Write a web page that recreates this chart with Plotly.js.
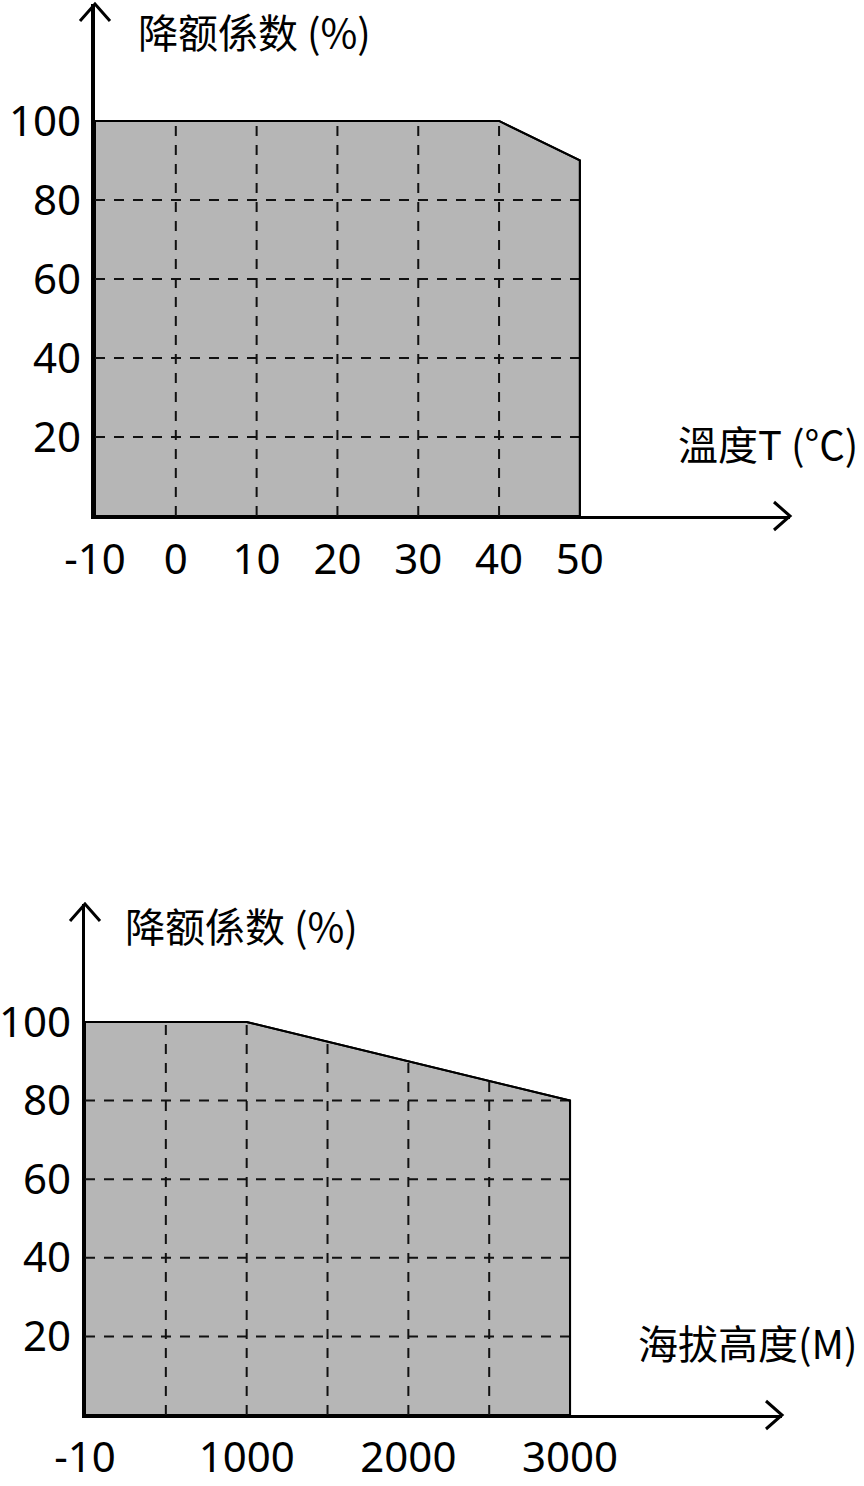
<!DOCTYPE html>
<html>
<head>
<meta charset="utf-8">
<script src="https://cdn.plot.ly/plotly-3.0.1.min.js"></script>
<style>body{margin:0;background:#fff}</style>
</head>
<body>
<div id="chart" style="width:864px;height:1486px"></div>
<script>
// temperature derating (top)
var tempX = [-10, 40, 50];
var tempY = [100, 100, 90];
var tempTicks = [-10, 0, 10, 20, 30, 40, 50];
var tempTickText = ['-10', '0', '10', '20', '30', '40', '50'];
var tempGridX = [0, 10, 20, 30, 40];

// altitude derating (bottom)
var altX = [0, 1000, 3000];
var altY = [100, 100, 80];
var altTicks = [0, 1000, 2000, 3000];
var altTickText = ['-10', '1000', '2000', '3000'];
var altGridX = [500, 1000, 1500, 2000, 2500];

var levelTicks = [20, 40, 60, 80, 100];
var gridLevels = [20, 40, 60, 80];

var yTitle = '降额係数 (%)';
var tempTitle = '溫度T (°C)';
var altTitle = '海拔高度(M)';

function topAt(xs, ys, x) {
  for (var i = 0; i < xs.length - 1; i++) {
    if (x >= xs[i] && x <= xs[i + 1]) {
      return ys[i] + (ys[i + 1] - ys[i]) * (x - xs[i]) / (xs[i + 1] - xs[i]);
    }
  }
  return ys[ys.length - 1];
}

function area(xs, ys, xa, ya) {
  var px = [xs[0]].concat(xs, [xs[xs.length - 1], xs[0]]);
  var py = [0].concat(ys, [0, 0]);
  return {
    x: px, y: py, xaxis: xa, yaxis: ya, type: 'scatter', mode: 'lines',
    fill: 'toself', fillcolor: '#b6b6b6',
    line: {color: '#000', width: 2}, hoverinfo: 'skip', showlegend: false
  };
}

function grid(xs, ys, gx, xa, ya) {
  var gxs = [], gys = [];
  gx.forEach(function (v) {
    gxs.push(v, v, null);
    gys.push(0, topAt(xs, ys, v), null);
  });
  gridLevels.forEach(function (l) {
    gxs.push(xs[0], xs[xs.length - 1], null);
    gys.push(l, l, null);
  });
  return {
    x: gxs, y: gys, xaxis: xa, yaxis: ya, type: 'scatter', mode: 'lines',
    line: {color: '#111', width: 2, dash: '10px,9px'},
    hoverinfo: 'skip', showlegend: false, connectgaps: false
  };
}

function outline(xs, ys, xa, ya) {
  var px = xs.concat([xs[xs.length - 1]]);
  var py = ys.concat([0]);
  return {
    x: px, y: py, xaxis: xa, yaxis: ya, type: 'scatter', mode: 'lines',
    line: {color: '#000', width: 2}, hoverinfo: 'skip', showlegend: false
  };
}

var data = [
  area(tempX, tempY, 'x', 'y'),
  grid(tempX, tempY, tempGridX, 'x', 'y'),
  outline(tempX, tempY, 'x', 'y'),
  area(altX, altY, 'x2', 'y2'),
  grid(altX, altY, altGridX, 'x2', 'y2'),
  outline(altX, altY, 'x2', 'y2')
];

var tickFont = {family: 'Noto Sans, sans-serif', size: 42, color: '#000'};
var titleFont = {family: 'Noto Sans CJK TC, sans-serif', size: 40, color: '#000'};

function xAxis(dom, rng, anchor, sd) {
  return {
    domain: dom, range: rng, anchor: anchor, showgrid: false, zeroline: false,
    showline: true, linewidth: 3.5, linecolor: '#000', ticks: '',
    tickfont: tickFont, ticklabelstandoff: sd, fixedrange: true
  };
}
function yAxis(dom, rng, anchor) {
  return {
    domain: dom, range: rng, anchor: anchor, showgrid: false, zeroline: false,
    showline: true, linewidth: 3.5, linecolor: '#000', ticks: '',
    tickvals: levelTicks, tickfont: tickFont, ticklabelstandoff: 2, fixedrange: true
  };
}

var xa1 = xAxis([0.10995, 0.91435], [-10, 76], 'y', 4);
xa1.tickvals = tempTicks;
xa1.ticktext = tempTickText;
var ya1 = yAxis([0.65276, 0.99731], [0, 129.6], 'x');
var xa2 = xAxis([0.09838, 0.90509], [0, 4311], 'y2', 3);
xa2.tickvals = altTicks;
xa2.ticktext = altTickText;
var ya2 = yAxis([0.04778, 0.39166], [0, 130], 'x2');

function chevronUp(xp, yp) {
  return {type: 'path', xref: 'paper', yref: 'paper', xsizemode: 'pixel', ysizemode: 'pixel',
    xanchor: xp, yanchor: yp, path: 'M -15,-17 L 0,0 L 15,-17', line: {color: '#000', width: 3}};
}
function chevronRight(xp, yp) {
  return {type: 'path', xref: 'paper', yref: 'paper', xsizemode: 'pixel', ysizemode: 'pixel',
    xanchor: xp, yanchor: yp, path: 'M -16,14 L 0,0 L -16,-14', line: {color: '#000', width: 3}};
}

var layout = {
  width: 864, height: 1486,
  margin: {l: 0, r: 0, t: 0, b: 0},
  paper_bgcolor: '#fff', plot_bgcolor: 'rgba(0,0,0,0)',
  showlegend: false,
  xaxis: xa1, yaxis: ya1, xaxis2: xa2, yaxis2: ya2,
  shapes: [
    chevronUp(0.10995, 0.99731), chevronRight(0.91435, 0.65276),
    chevronUp(0.09838, 0.39166), chevronRight(0.90509, 0.04778)
  ],
  annotations: [
    {xref: 'paper', yref: 'paper', x: 0.1575, y: 1, xanchor: 'left', yanchor: 'top',
      text: yTitle, showarrow: false, font: titleFont},
    {xref: 'paper', yref: 'paper', x: 0.9954, y: 0.7019, xanchor: 'right', yanchor: 'middle',
      text: tempTitle, showarrow: false, font: titleFont},
    {xref: 'paper', yref: 'paper', x: 0.1420, y: 0.3775, xanchor: 'left', yanchor: 'middle',
      text: yTitle, showarrow: false, font: titleFont},
    {xref: 'paper', yref: 'paper', x: 0.9954, y: 0.0969, xanchor: 'right', yanchor: 'middle',
      text: altTitle, showarrow: false, font: titleFont}
  ]
};

Plotly.newPlot('chart', data, layout, {displayModeBar: false, staticPlot: true});
</script>
</body>
</html>
